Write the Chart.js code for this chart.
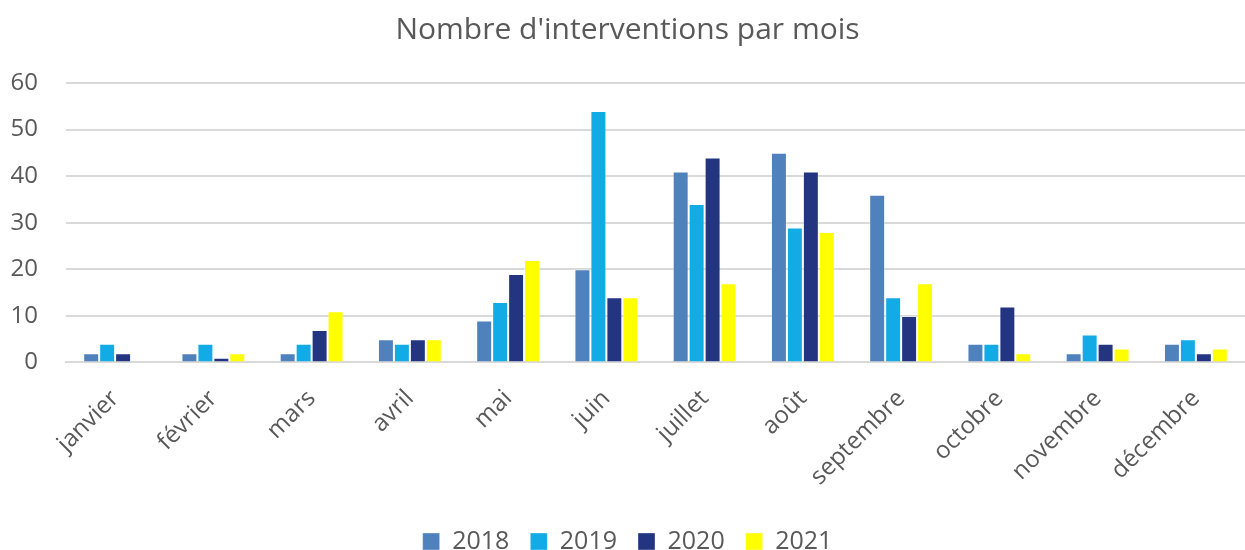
<!DOCTYPE html>
<html><head><meta charset="utf-8">
<script src="https://cdn.jsdelivr.net/npm/chart.js@4.4.1/dist/chart.umd.min.js"></script>
<style>html,body{margin:0;padding:0;background:#fff}#wrap{width:1245px;height:550px}</style>
</head><body><div id="wrap"><canvas id="c" width="1245" height="550"></canvas></div>
<script>
const categories = ['janvier','février','mars','avril','mai','juin','juillet','août','septembre','octobre','novembre','décembre'];
const s2018 = [2,2,2,5,9,20,41,45,36,4,2,4];
const s2019 = [4,4,4,4,13,54,34,29,14,4,6,5];
const s2020 = [2,1,7,5,19,14,44,41,10,12,4,2];
const s2021 = [0,2,11,5,22,14,17,28,17,2,3,3];
const yTicks = [0,10,20,30,40,50,60];
const FONT = '"Open Sans", sans-serif';
const mk = (label, data, color) => ({label, data, backgroundColor: color, borderColor: 'rgba(255,255,255,0.35)', borderWidth: 1, categoryPercentage: 0.65, barPercentage: 1.0});
new Chart(document.getElementById('c'), {
  type: 'bar',
  data: { labels: categories, datasets: [
    mk('2018', s2018, '#4F81BD'),
    mk('2019', s2019, '#12ABE6'),
    mk('2020', s2020, '#233580'),
    mk('2021', s2021, '#FFFF00')
  ]},
  options: {
    responsive: false, animation: false,
    layout: { padding: { left: 10, right: 0, top: 6, bottom: -14 } },
    plugins: {
      title: { display: true, text: "Nombre d'interventions par mois", color: '#595959', font: { family: FONT, size: 30, weight: 'normal' }, padding: { top: 6, bottom: 35 } },
      legend: { position: 'bottom', labels: { color: '#595959', font: { family: FONT, size: 25 }, boxWidth: 17, boxHeight: 17, padding: 21 } },
      tooltip: { enabled: false }
    },
    scales: {
      x: { grid: { display: false, drawTicks: false }, border: { color: '#d9d9d9', width: 2 },
           afterFit: ax => { ax.height -= 5; },
           ticks: { color: '#595959', font: { family: FONT, size: 24 }, minRotation: 45, maxRotation: 45, padding: 22 } },
      y: { min: 0, max: 60, afterBuildTicks: ax => { ax.ticks = yTicks.map(v => ({value: v})); },
           afterFit: ax => { ax.width = 56; },
           grid: { color: '#d9d9d9', lineWidth: 2, drawTicks: false }, border: { display: false },
           ticks: { color: '#595959', font: { family: FONT, size: 24 }, padding: 28 } }
    }
  }
});
</script></body></html>
